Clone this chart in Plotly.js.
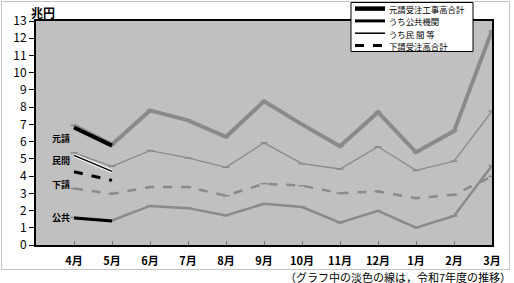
<!DOCTYPE html>
<html><head><meta charset="utf-8">
<script src="https://cdn.plot.ly/plotly-3.0.1.min.js"></script>
<style>
html,body{margin:0;padding:0;background:#fff;}
#wrap{position:relative;width:514px;height:283px;}
#chart{width:514px;height:283px;}
#frame{position:absolute;left:1px;top:1px;width:507px;height:267px;border:1px solid #c4c4c4;pointer-events:none;}
</style></head>
<body><div id="wrap"><div id="chart"></div><div id="frame"></div></div>
<script>
const months = ['4月','5月','6月','7月','8月','9月','10月','11月','12月','1月','2月','3月'];
// 令和7年度 (light lines)
const prevTotal   = [6.94,5.83,7.81,7.23,6.28,8.34,7.00,5.73,7.71,5.38,6.61,12.44];
const prevPublic  = [1.60,1.42,2.27,2.14,1.71,2.39,2.20,1.30,1.98,1.01,1.69,4.62];
const prevPrivate = [5.35,4.57,5.48,5.05,4.51,5.93,4.72,4.41,5.70,4.33,4.86,7.77];
const prevSub     = [3.28,2.97,3.36,3.36,2.86,3.56,3.44,3.01,3.11,2.72,2.92,3.98];
// current year (black lines)
const curMonths  = ['4月','5月'];
const curTotal   = [6.82,5.77];
const curPublic  = [1.57,1.40];
const curPrivate = [5.20,4.27];
const curSub     = [4.25,3.75];
const seriesNames = ['元請受注工事高合計','うち公共機関','うち民 間 等','下請受注高合計'];
const inlineLabels = ['元請','民間','下請','公共'];
const inlineValues = [6.18,4.90,3.50,1.57];

const xi = a => a.map(m => months.indexOf(m));
const X = xi(months), XC = xi(curMonths);
const gray = '#8a8a8a';
const gm = {symbol:'line-ew', size:5, line:{width:1.5, color:gray}, color:gray};
const traces = [
  {x:X, y:prevTotal, mode:'lines+markers', line:{color:gray,width:4}, marker:gm},
  {x:X, y:prevPrivate, mode:'lines+markers', line:{color:gray,width:1.3}, marker:gm},
  {x:X, y:prevSub, mode:'lines+markers', line:{color:gray,width:2.5,dash:'dash'}, marker:gm},
  {x:X, y:prevPublic, mode:'lines+markers', line:{color:gray,width:2.5}, marker:gm},
  {x:XC, y:curTotal, mode:'lines', name:seriesNames[0], line:{color:'#000',width:4}},
  {x:XC, y:curPublic, mode:'lines', name:seriesNames[1], line:{color:'#000',width:3}},
  {x:XC, y:curPrivate, mode:'lines', line:{color:'#fff',width:3.5}},
  {x:XC, y:curPrivate, mode:'lines', name:seriesNames[2], line:{color:'#000',width:1.5}},
  {x:XC, y:curSub, mode:'lines', name:seriesNames[3], line:{color:'#000',width:3,dash:'dash'}}
];
const F = 'Noto Sans CJK JP, Liberation Sans, sans-serif';
// plot area in pixels: x 36..492, y 21..245
const PX = x => (x-36)/456, PY = y => (245-y)/224;
const annotations = inlineLabels.map((t,i)=>({x:-0.34, y:inlineValues[i], xref:'x', yref:'y', text:t, showarrow:false, height:11, font:{size:9, color:'#000', family:F, weight:'bold'}}));
annotations.push({x:PX(43), xanchor:'center', y:PY(13), yanchor:'middle', xref:'paper', yref:'paper', text:'兆円', showarrow:false, font:{size:12,color:'#000',family:F, weight:'bold'}});
annotations.push({x:PX(513), xanchor:'right', y:PY(276), yanchor:'middle', xref:'paper', yref:'paper', text:'（グラフ中の淡色の線は，令和7年度の推移）', showarrow:false, height:13, font:{size:11,color:'#000',family:F}});
// manual compact legend
const shapes = [{type:'rect', xref:'paper', yref:'paper', x0:PX(351), x1:PX(473), y0:PY(51.5), y1:PY(2.5), fillcolor:'#fff', line:{color:'#000',width:1}, layer:'above'}];
const legRows = [8.6, 20.9, 33.2, 45.5];
const legW = [4.5, 3, 1.5, 3];
const legDash = ['solid','solid','solid','dash'];
seriesNames.forEach((n,i)=>{
  shapes.push({type:'line', xref:'paper', yref:'paper', x0:PX(355), x1:PX(385), y0:PY(legRows[i]), y1:PY(legRows[i]), line:{color:'#000', width:legW[i], dash:legDash[i]}, layer:'above'});
  annotations.push({x:PX(388), xanchor:'left', y:PY(legRows[i]), yanchor:'middle', xref:'paper', yref:'paper', text:n, showarrow:false, height:11, borderpad:0, font:{size:8.4,color:'#000',family:F}});
});
const layout = {
  width:514, height:283,
  margin:{l:36, r:22, t:21, b:38},
  paper_bgcolor:'#fff', plot_bgcolor:'#c0c0c0',
  font:{family:F, color:'#000'},
  showlegend:false,
  xaxis:{range:[-1,11], tickvals:X, ticktext:months, ticks:'inside', ticklen:4, tickcolor:'#777',
         showgrid:false, zeroline:false, showline:true, linecolor:'#000', linewidth:2, mirror:true,
         tickfont:{size:11, weight:'bold'}, ticklabelstandoff:5, fixedrange:true},
  yaxis:{range:[0,13], dtick:1, ticks:'outside', ticklen:5, tickcolor:'#000',
         showgrid:false, zeroline:false, showline:true, linecolor:'#000', linewidth:2, mirror:true,
         tickfont:{size:12}, fixedrange:true},
  annotations:annotations,
  shapes:shapes
};
Plotly.newPlot('chart', traces, layout, {displayModeBar:false, staticPlot:true});
</script></body></html>
